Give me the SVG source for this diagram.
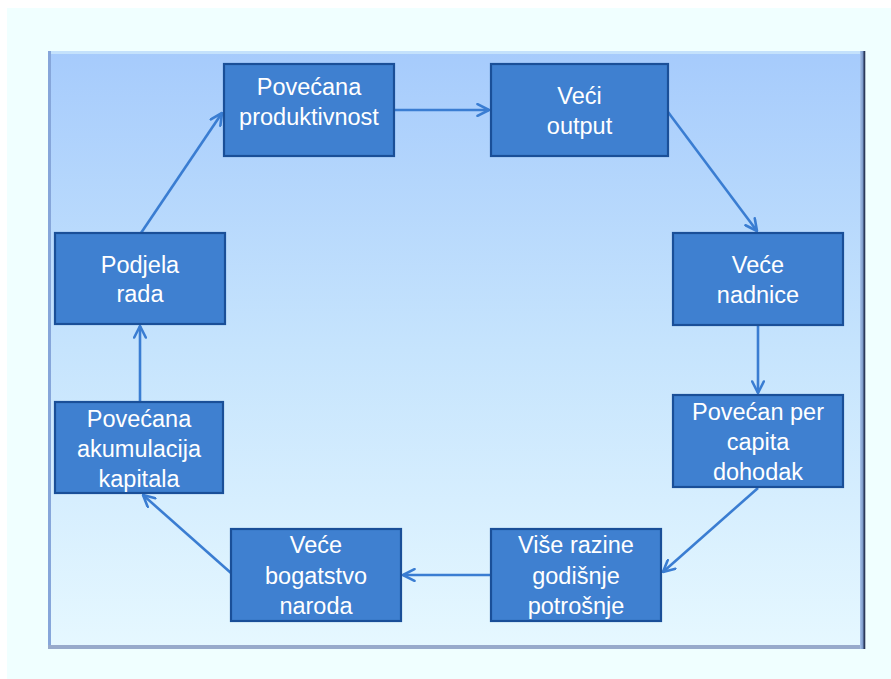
<svg xmlns="http://www.w3.org/2000/svg" width="891" height="679" viewBox="0 0 891 679">
<defs>
<linearGradient id="bg" x1="0" y1="0" x2="0" y2="1">
<stop offset="0" stop-color="#a6cbfc"/>
<stop offset="0.5" stop-color="#c6e4fd"/>
<stop offset="1" stop-color="#e6f8ff"/>
</linearGradient>
<linearGradient id="rb" x1="0" y1="0" x2="1" y2="0">
<stop offset="0" stop-color="#a8c4ec"/>
<stop offset="1" stop-color="#6a88bc"/>
</linearGradient>
<marker id="ah" viewBox="0 0 14 14" refX="13" refY="7" markerWidth="14" markerHeight="14" markerUnits="userSpaceOnUse" orient="auto">
<path d="M1.5,1.2 L13,7 L1.5,12.8" fill="none" stroke="#3a7dd2" stroke-width="2.6" stroke-linecap="round" stroke-linejoin="round"/>
</marker>
</defs>
<style>
.box{fill:#3f80d0;stroke:#1a4f98;stroke-width:2.2}
.t{font-family:"Liberation Sans",Arial,sans-serif;font-size:23.5px;fill:#ffffff;text-anchor:middle}
.c{fill:none;stroke:#3a7dd2;stroke-width:2.6;marker-end:url(#ah)}
</style>
<rect x="0" y="0" width="891" height="679" fill="#ffffff"/>
<rect x="7" y="8" width="884" height="671" fill="#f0ffff"/>
<g id="frame">
<rect x="48" y="51" width="817" height="598" fill="url(#bg)"/>
<rect x="48" y="51" width="817" height="3" fill="#c4e2fc"/>
<rect x="48" y="51" width="3" height="598" fill="#86a6da"/>
<rect x="48" y="645" width="817" height="4" fill="#98aacb"/>
<rect x="860" y="51" width="4" height="598" fill="url(#rb)"/>
<rect x="863.5" y="51" width="1.8" height="598" fill="#2c3a5a"/>
</g>
<g id="connectors">
<line class="c" x1="141" y1="233" x2="222" y2="113"/>
<line class="c" x1="394" y1="110" x2="489" y2="110"/>
<line class="c" x1="668" y1="112" x2="757" y2="231"/>
<line class="c" x1="758" y1="325" x2="758" y2="393"/>
<line class="c" x1="758" y1="488" x2="663" y2="572"/>
<line class="c" x1="491" y1="575" x2="403" y2="575"/>
<line class="c" x1="231" y1="573" x2="143" y2="495"/>
<line class="c" x1="140" y1="402" x2="140" y2="326"/>
</g>
<g id="n1">
<rect class="box" x="224" y="64" width="170" height="92"/>
<text class="t" x="309" y="95">Povećana</text>
<text class="t" x="309" y="125">produktivnost</text>
</g>
<g id="n2">
<rect class="box" x="491" y="64" width="177" height="92"/>
<text class="t" x="579.5" y="104">Veći</text>
<text class="t" x="579.5" y="134">output</text>
</g>
<g id="n3">
<rect class="box" x="673" y="233" width="170" height="92"/>
<text class="t" x="758" y="273">Veće</text>
<text class="t" x="758" y="303">nadnice</text>
</g>
<g id="n4">
<rect class="box" x="673" y="395" width="170" height="92"/>
<text class="t" x="758" y="420">Povećan per</text>
<text class="t" x="758" y="450">capita</text>
<text class="t" x="758" y="480">dohodak</text>
</g>
<g id="n5">
<rect class="box" x="491" y="529" width="170" height="92"/>
<text class="t" x="576" y="553">Više razine</text>
<text class="t" x="576" y="584">godišnje</text>
<text class="t" x="576" y="614">potrošnje</text>
</g>
<g id="n6">
<rect class="box" x="231" y="529" width="170" height="92"/>
<text class="t" x="316" y="553">Veće</text>
<text class="t" x="316" y="584">bogatstvo</text>
<text class="t" x="316" y="614">naroda</text>
</g>
<g id="n7">
<rect class="box" x="55" y="402" width="168" height="91"/>
<text class="t" x="139" y="427">Povećana</text>
<text class="t" x="139" y="457">akumulacija</text>
<text class="t" x="139" y="487">kapitala</text>
</g>
<g id="n8">
<rect class="box" x="55" y="233" width="170" height="91"/>
<text class="t" x="140" y="273">Podjela</text>
<text class="t" x="140" y="302">rada</text>
</g>
</svg>
